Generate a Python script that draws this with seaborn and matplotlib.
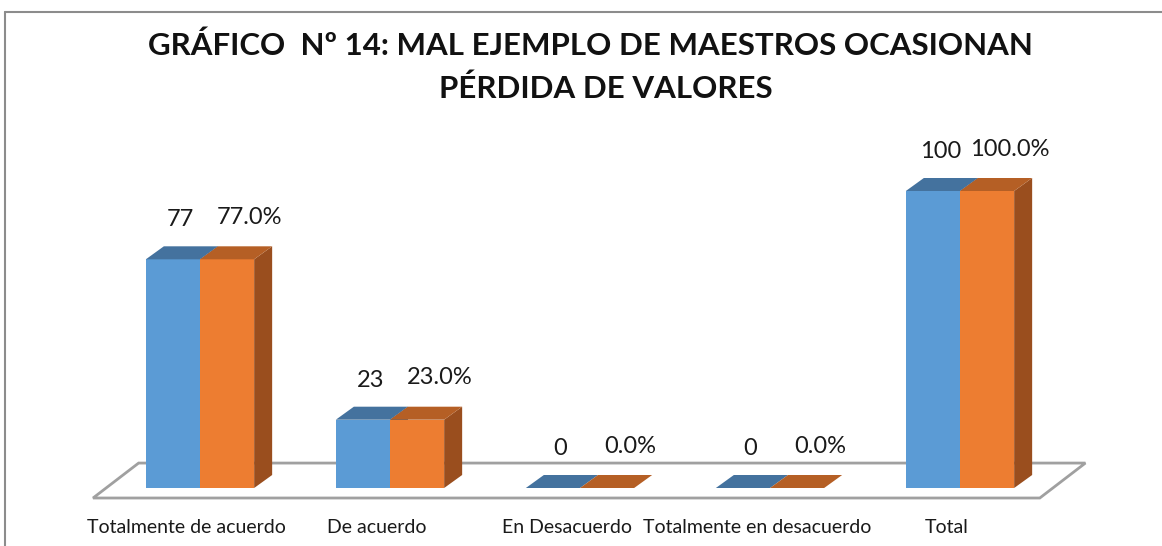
import pandas as pd
import numpy as np
import seaborn as sns
import matplotlib.pyplot as plt
from matplotlib.patches import Polygon
from matplotlib.lines import Line2D

categorias = ['Totalmente de acuerdo', 'De acuerdo', 'En Desacuerdo',
              'Totalmente en desacuerdo', 'Total']
frecuencia = [77, 23, 0, 0, 100]
porcentaje = [77.0, 23.0, 0.0, 0.0, 100.0]
series = ['Frecuencia', 'Porcentaje']
etiquetas = [[str(v) for v in frecuencia], ['%.1f%%' % v for v in porcentaje]]

df = pd.DataFrame({
    'Categoria': categorias * 2,
    'Serie': [series[0]] * 5 + [series[1]] * 5,
    'Valor': frecuencia + porcentaje,
})

sns.set_style('white')
plt.rcParams['font.family'] = ['Lato', 'DejaVu Sans']

frente = ['#5B9BD5', '#ED7D31']
tapa = ['#44729E', '#B55F25']
lado = ['#3E6690', '#9A4E1E']

fig = plt.figure(figsize=(11.62, 5.46), dpi=100)
ax = fig.add_axes([0, 0, 1, 1])
sns.barplot(data=df, x='Categoria', y='Valor', hue='Serie', palette=frente,
            width=0.57, dodge=True, legend=False, ax=ax, saturation=1,
            edgecolor='none', linewidth=0)

# escala en pixeles: categorias cada 190 px, la primera en 200 px; 100 unidades = 297 px
ax.set_xlim(-200 / 190, (1162 - 200) / 190)
ax.set_ylim(-(546 - 488) / 2.97, 488 / 2.97)
ax.axis('off')

dx = 18 / 190
dy = 13 / 2.97

# piso
fx0, fx1 = -0.563, 4.42
floor = Polygon([(fx0, -3.37), (fx1, -3.37), (fx1 + 0.24, 8.4), (fx0 + 0.24, 8.4)],
                closed=True, facecolor='white', edgecolor='#A0A0A0', lw=2, zorder=0.5)
ax.add_patch(floor)

for s, cont in enumerate(ax.containers):
    for i, bar in enumerate(cont):
        x0 = bar.get_x()
        w = bar.get_width()
        h = bar.get_height()
        x1 = x0 + w
        z = 2 + s * 2
        bar.set_zorder(z)
        ax.add_patch(Polygon([(x0, h), (x1, h), (x1 + dx, h + dy), (x0 + dx, h + dy)],
                             closed=True, facecolor=tapa[s], edgecolor='none', zorder=z + 0.5))
        ax.add_patch(Polygon([(x1, 0), (x1 + dx, dy), (x1 + dx, h + dy), (x1, h)],
                             closed=True, facecolor=lado[s], edgecolor='none', zorder=z - 0.5))
        off = 0.04 if s == 0 else 0.12
        ax.text(x0 + w / 2 + off, h + 9.8 + s * 0.8, etiquetas[s][i], ha='center',
                va='bottom', fontsize=17, color='#1a1a1a', zorder=10)

for i, c in enumerate(categorias):
    ax.text(i - 0.07, -10.5, c, ha='center', va='top', fontsize=14, color='#1a1a1a')

titulo = ['GRÁFICO  Nº 14: MAL EJEMPLO DE MAESTROS OCASIONAN', 'PÉRDIDA DE VALORES']
fig.text(0.508, 1 - 46 / 546, titulo[0],
         ha='center', va='center', fontsize=22.5, fontweight='bold', color='#111111')
fig.text(0.521, 1 - 89 / 546, titulo[1],
         ha='center', va='center', fontsize=22.5, fontweight='bold', color='#111111')

# borde del grafico
fig.add_artist(Line2D([5 / 1162, 1.0], [1 - 12 / 546, 1 - 12 / 546],
                      transform=fig.transFigure, color='#8C8C8C', lw=1.5))
fig.add_artist(Line2D([5 / 1162, 5 / 1162], [0, 1 - 12 / 546],
                      transform=fig.transFigure, color='#8C8C8C', lw=1.5))

fig.savefig('out.png', dpi=100)
